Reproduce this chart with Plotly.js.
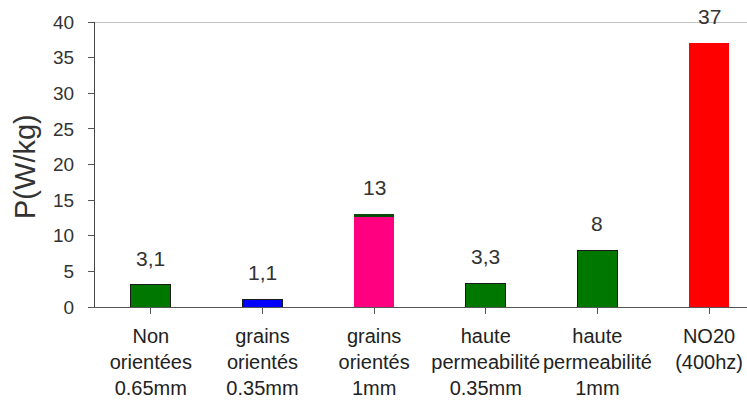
<!DOCTYPE html>
<html>
<head>
<meta charset="utf-8">
<script src="https://cdn.plot.ly/plotly-3.0.1.min.js"></script>
<style>html,body{margin:0;padding:0;background:#fff;}#chart{width:747px;height:403px;}</style>
</head>
<body>
<div id="chart"></div>
<script>
var categories = ["Non<br>orientées<br>0.65mm", "grains<br>orientés<br>0.35mm", "grains<br>orientés<br>1mm", "haute<br>permeabilité<br>0.35mm", "haute<br>permeabilité<br>1mm", "NO20<br>(400hz)"];
var values = [3.1, 1.1, 12.6, 3.3, 8, 37];
var capValues = [0, 0, 0.4, 0, 0, 0];
var valueLabels = ["3,1", "1,1", "13", "3,3", "8", "37"];
var colors = ["#007800", "#0000FF", "#FF0080", "#007800", "#007800", "#FF0000"];
var lineWidths = [1, 1, 0, 1, 1, 0];
var yTicks = [0, 5, 10, 15, 20, 25, 30, 35, 40];
var yTitle = "P(W/kg)";

var xs = categories.map(function(c, i){ return i; });
var totals = values.map(function(v, i){ return v + capValues[i]; });

var traces = [
  {type: "bar", x: xs, y: values, width: 0.36,
   marker: {color: colors, line: {color: "#1a1a1a", width: lineWidths}}, hoverinfo: "none"},
  {type: "bar", x: xs, y: capValues, width: 0.36,
   marker: {color: "#0a4a0a", line: {width: 0}}, hoverinfo: "none"}
];

var annotations = xs.map(function(x, i){
  return {x: x, y: totals[i], text: valueLabels[i], showarrow: false, xref: "x", yref: "y",
          yanchor: "bottom", yshift: 13, font: {family: "Liberation Sans, Arial", size: 21, color: "#333"}};
});
annotations.push({xref: "paper", yref: "paper", x: -0.1074, y: 0.4947, text: yTitle, textangle: -90,
  showarrow: false, xanchor: "center", yanchor: "middle",
  font: {family: "Liberation Sans, Arial", size: 29, color: "#333"}});

var layout = {
  width: 747, height: 403,
  margin: {l: 95, r: 0, t: 22, b: 96},
  paper_bgcolor: "#fff", plot_bgcolor: "#fff",
  barmode: "stack",
  showlegend: false,
  font: {family: "Liberation Sans, Arial", color: "#333"},
  xaxis: {range: [-0.5, 5.34], tickmode: "array", tickvals: xs, ticktext: categories,
          tickson: "boundaries", ticks: "outside", ticklen: 6, tickcolor: "#555", tickangle: 0,
          showline: true, linecolor: "#555", linewidth: 1, showgrid: false, zeroline: false,
          tickfont: {size: 20, color: "#222"}, ticklabelstandoff: 5, fixedrange: true},
  yaxis: {range: [0, 40], tickvals: yTicks, ticks: "outside", ticklen: 6,
          tickcolor: "#555", showline: true, linecolor: "#444", linewidth: 1, showgrid: false,
          zeroline: false, tickfont: {size: 19, color: "#333"}, ticklabelstandoff: 10, fixedrange: true},
  shapes: [{type: "line", xref: "paper", yref: "y", x0: 0, x1: 1, y0: 40, y1: 40,
            line: {color: "#888", width: 1}}],
  annotations: annotations
};

Plotly.newPlot("chart", traces, layout, {staticPlot: true, displayModeBar: false});
</script>
</body>
</html>
